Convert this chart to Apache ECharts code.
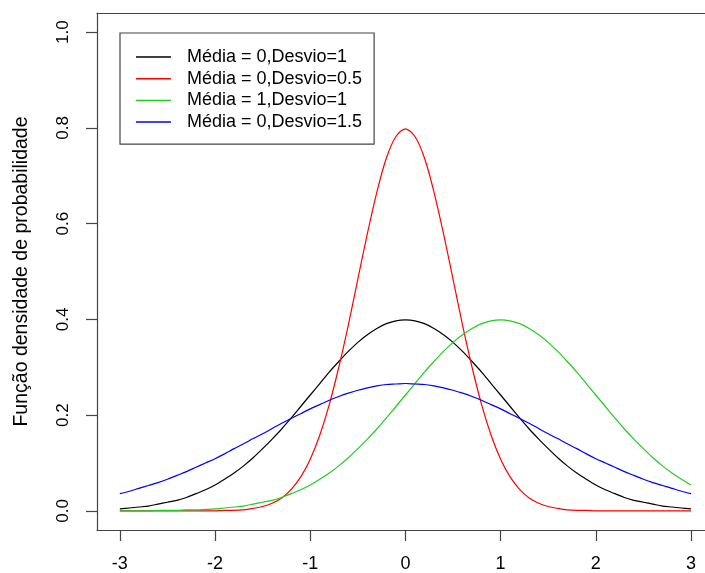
<!DOCTYPE html>
<html>
<head>
<meta charset="utf-8">
<script src="https://cdn.jsdelivr.net/npm/echarts@6/dist/echarts.min.js"></script>
<style>
  html, body { margin: 0; padding: 0; background: #fff; }
  #chart { width: 705px; height: 573px; }
</style>
</head>
<body>
<div id="chart"></div>
<script>
// x positions, -3 .. 3 step 0.1
var xs = [];
for (var i = -30; i <= 30; i++) xs.push(+(i / 10).toFixed(1));

// densities for x = 0..3; symmetric curves are mirrored
var blackHalf = [0.399, 0.397, 0.391, 0.381, 0.368, 0.352, 0.333, 0.312, 0.290, 0.266,
  0.242, 0.218, 0.194, 0.171, 0.150, 0.130, 0.111, 0.094, 0.079, 0.066,
  0.054, 0.044, 0.036, 0.028, 0.022, 0.018, 0.014, 0.010, 0.008, 0.006, 0.004];
var redHalf = [0.798, 0.782, 0.737, 0.666, 0.579, 0.484, 0.388, 0.300, 0.222, 0.158,
  0.108, 0.071, 0.045, 0.027, 0.016, 0.009, 0.005, 0.002, 0.001, 0.001,
  0.000, 0.000, 0.000, 0.000, 0.000, 0.000, 0.000, 0.000, 0.000, 0.000, 0.000];
var blueHalf = [0.266, 0.265, 0.264, 0.261, 0.257, 0.252, 0.246, 0.239, 0.231, 0.222,
  0.213, 0.203, 0.193, 0.183, 0.172, 0.161, 0.151, 0.140, 0.130, 0.119,
  0.109, 0.100, 0.091, 0.082, 0.074, 0.066, 0.059, 0.053, 0.047, 0.041, 0.036];
// green (mean 1), x = -3 .. 3
var greenVals = [0.000, 0.000, 0.000, 0.000, 0.001, 0.001, 0.001, 0.002, 0.002, 0.003,
  0.004, 0.006, 0.008, 0.010, 0.014, 0.018, 0.022, 0.028, 0.036, 0.044,
  0.054, 0.066, 0.079, 0.094, 0.111, 0.130, 0.150, 0.171, 0.194, 0.218,
  0.242, 0.266, 0.290, 0.312, 0.333, 0.352, 0.368, 0.381, 0.391, 0.397,
  0.399, 0.397, 0.391, 0.381, 0.368, 0.352, 0.333, 0.312, 0.290, 0.266,
  0.242, 0.218, 0.194, 0.171, 0.150, 0.130, 0.111, 0.094, 0.079, 0.066, 0.054];

var seriesNames = ['Média = 0,Desvio=1', 'Média = 0,Desvio=0.5', 'Média = 1,Desvio=1', 'Média = 0,Desvio=1.5'];
var seriesColors = ['#000000', '#ff0000', '#22cc22', '#0000ff'];
var xTicks = [-3, -2, -1, 0, 1, 2, 3];
var yTicks = [0, 0.2, 0.4, 0.6, 0.8, 1.0];

function mirror(half) {
  return half.slice(1).reverse().concat(half);
}
var seriesValues = [mirror(blackHalf), mirror(redHalf), greenVals, mirror(blueHalf)];

var font = 'Liberation Sans, Arial, sans-serif';
var frame = { show: true, onZero: false, lineStyle: { color: '#444', width: 1.2 } };
var chart = echarts.init(document.getElementById('chart'));
chart.setOption({
  animation: false,
  backgroundColor: '#fff',
  // plot box runs off the right edge of the picture
  grid: { left: 97, top: 13, width: 608, height: 518 },
  legend: {
    orient: 'vertical',
    left: 120, top: 33,
    padding: [15, 12, 13, 16],
    borderColor: '#444', borderWidth: 1.2,
    itemWidth: 35, itemHeight: 1.5, itemGap: 3.7,
    data: seriesNames.map(function (name, k) {
      return { name: name, icon: 'rect', itemStyle: { color: seriesColors[k] } };
    }),
    textStyle: { fontFamily: font, fontSize: 18, color: '#000', padding: [0, 0, 0, 11] }
  },
  xAxis: [{
    type: 'value', min: -3.24, max: 3.147,
    splitLine: { show: false },
    axisLine: frame,
    axisTick: { show: true, customValues: xTicks, length: 11, lineStyle: { color: '#444', width: 1.2 } },
    axisLabel: { customValues: xTicks, margin: 25, fontFamily: font, fontSize: 18, color: '#000' }
  }, {
    type: 'value', position: 'top', min: -3.24, max: 3.147,
    splitLine: { show: false },
    axisLine: frame,
    axisTick: { show: false },
    axisLabel: { show: false }
  }],
  yAxis: {
    type: 'value', min: -0.04, max: 1.04,
    name: 'Função densidade de probabilidade',
    nameLocation: 'middle', nameGap: 65, nameRotate: 90,
    nameTextStyle: { fontFamily: font, fontSize: 19.5, color: '#000' },
    splitLine: { show: false },
    axisLine: frame,
    axisTick: { show: true, customValues: yTicks, length: 11, lineStyle: { color: '#444', width: 1.2 } },
    axisLabel: {
      customValues: yTicks, margin: 25, rotate: 90,
      fontFamily: font, fontSize: 17, color: '#000',
      formatter: function (v) { return v.toFixed(1); }
    }
  },
  series: seriesNames.map(function (name, k) {
    return {
      name: name,
      type: 'line',
      showSymbol: false,
      symbol: 'none',
      smooth: 0.3,
      itemStyle: { color: seriesColors[k] },
      lineStyle: { color: seriesColors[k], width: 1.2 },
      data: xs.map(function (x, j) { return [x, seriesValues[k][j]]; })
    };
  })
});
</script>
</body>
</html>
